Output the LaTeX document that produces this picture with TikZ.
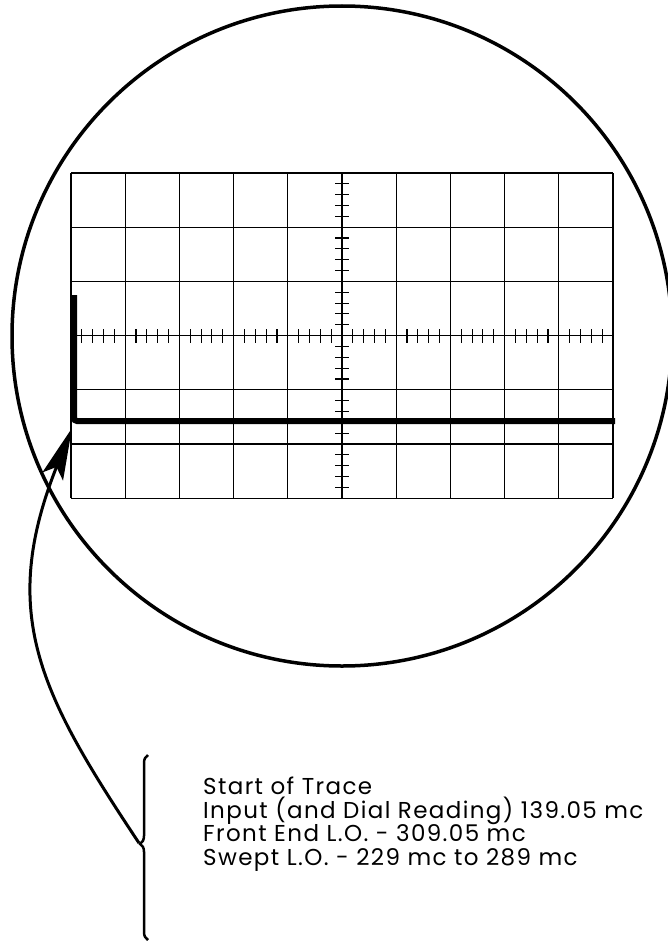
\documentclass[tikz,border=0pt]{standalone}
\usepackage{fontspec}
\setmainfont{Poppins}
\usepackage{tikz}
\usetikzlibrary{arrows.meta,decorations.pathreplacing}

\begin{document}
\begin{tikzpicture}[
	x=1pt, y=-1pt,
	>={Stealth[length=52pt,width=22pt,inset=10pt]},
	gridline/.style={draw, line width=1.1pt},
	tick/.style={draw, line width=1.1pt},
	screen/.style={draw, line width=3.5pt},
	trace/.style={draw, line width=6pt, rounded corners=3pt},
	pointer/.style={draw, line width=3pt},
	bracket/.style={draw, line width=2.5pt, decorate, decoration={brace, amplitude=8pt, aspect=0.52}},
	caption/.style={align=left, anchor=base west, inner sep=0pt, font=\fontsize{23}{23.5}\selectfont\addfontfeatures{LetterSpace=6}}
]
\useasboundingbox (0,0) rectangle (667,942);

% scope face
\draw[screen] (342,336) circle[radius=330];

% graticule
\foreach \i in {0,...,10}
	\draw[gridline] (71+\i*54.2,173) -- (71+\i*54.2,498.2);
\foreach \j in {0,...,6}
	\draw[gridline] (71,173+\j*54.2) -- (613,173+\j*54.2);

% minor divisions on the centre lines
\foreach \i in {0,...,9}
	\foreach \k in {1,...,4}
		\draw[tick] (71+\i*54.2+\k*10.84,329) -- ++(0,14);
\foreach \j in {0,...,5}
	\foreach \k in {1,...,4}
		\draw[tick] (335,173+\j*54.2+\k*10.84) -- ++(14,0);

% trace
\draw[trace] (74,295) -- (74,421) -- (615,421);
\coordinate (tracestart) at (72,428);

% brace and caption
\coordinate (bracebot) at (148,940);
\coordinate (bracetop) at (148,755);
\coordinate (bracetip) at (139,843);
\draw[bracket] (bracebot) -- (bracetop);

\node[caption] (notes) at (203,865) {Start of Trace\\
	Input (and Dial Reading) 139.05 mc\\
	Front End L.O. - 309.05 mc\\
	Swept L.O. - 229 mc to 289 mc};

% pointer from caption to trace start
\draw[pointer, ->] (bracetip) .. controls (40,694) and (-2,614) .. (tracestart);

\end{tikzpicture}
\end{document}
